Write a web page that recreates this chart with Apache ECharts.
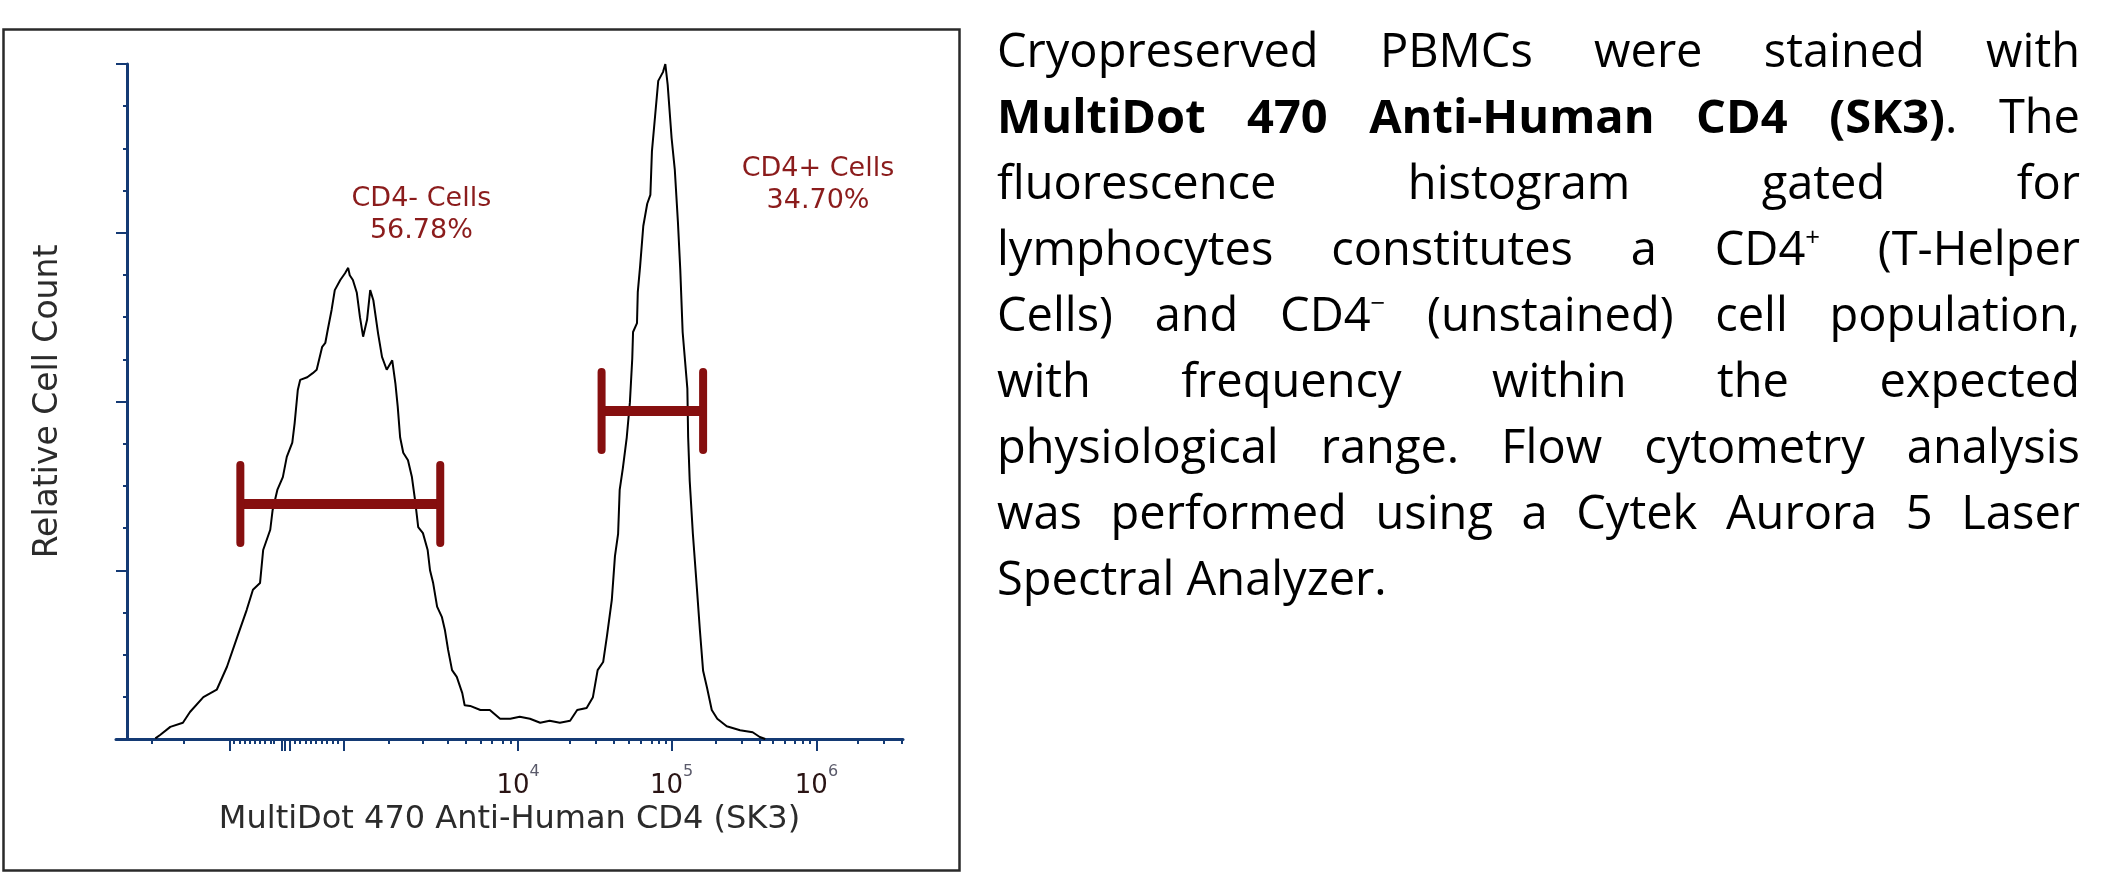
<!DOCTYPE html>
<html>
<head>
<meta charset="utf-8">
<script src="https://cdn.jsdelivr.net/npm/echarts@6.0.0/dist/echarts.min.js"></script>
<style>
  html, body { margin: 0; padding: 0; background: #fff; }
  #chart { position: absolute; left: 0; top: 0; width: 2116px; height: 873px; }
  #desc { position: absolute; left: 997px; top: 16px; width: 1083px;
          font-family: 'Open Sans', 'Noto Sans', sans-serif; font-size: 47px; color: #000; }
  #desc .ln { height: 66px; line-height: 66px; text-align: justify; text-align-last: justify; white-space: nowrap; overflow: visible; }
  #desc .ln.last { text-align: left; text-align-last: left; }
  #desc sup { font-size: 0.55em; line-height: 0; vertical-align: 0.75em; }
</style>
</head>
<body>
<div id="chart"></div>
<div id="desc"></div>
<script>
// ---- data (x in display channels 0-1000 of the compensated fluorescence axis, y in relative count %) ----
const cellX = [50,56,69,85,94,111,128,141,154,166,174,183,187,196,199,205,212,217,224,227,231,234,243,250,255,262,266,269,274,278,285,291,295,297,301,306,310,314,319,323,327,333,338,344,351,355,358,361,365,371,376,380,384,390,396,399,403,408,414,418,422,427,433,440,443,450,463,475,488,501,513,526,539,551,564,577,586,598,606,612,619,624,630,634,638,640,644,649,653,656,657,662,663,666,670,675,679,681,685,689,695,698,701,706,710,714,717,720,726,727,729,733,738,742,746,751,757,764,776,793,809,818,825];
const cellY = [0.1,0.6,1.8,2.4,4.0,6.2,7.3,10.7,15.1,19.1,22.1,23.1,28.0,31.0,33.9,36.9,38.8,41.8,43.9,46.8,51.7,53.2,53.6,54.2,54.7,58.1,58.7,60.6,63.6,66.5,68.0,69.0,69.8,68.7,68.0,66.1,62.5,59.6,62.1,66.5,65.0,60.1,56.6,54.7,56.1,52.7,49.2,44.7,42.4,41.3,38.8,35.4,31.4,30.5,28.0,25.0,23.1,19.6,18.1,16.1,13.2,10.2,9.2,6.8,5.0,4.9,4.3,4.3,3.0,3.0,3.3,3.0,2.4,2.7,2.4,2.7,4.3,4.6,6.2,10.2,11.4,15.4,20.6,27.1,30.4,36.9,40.1,44.7,49.9,56.4,60.3,61.6,66.2,70.1,76.0,79.3,80.6,87.1,92.3,97.5,98.8,100,96.9,89.0,84.4,76.6,69.5,60.3,51.9,44.7,38.2,30.4,22.5,16.0,10.1,7.6,4.3,3.0,1.9,1.3,1.0,0.3,0];

const gateNames = ['CD4- Cells', 'CD4+ Cells'];
const gatePct = ['56.78%', '34.70%'];
const gateStart = [158, 617];
const gateEnd = [412, 746];
const gateLevel = [34.8, 48.6];

const xMajorTicks = [145, 210, 214, 221, 290, 511, 706, 890];
const xMinorTicks = [45, 86, 150, 157, 163, 170, 176, 183, 189, 196, 201, 227, 234, 241, 248, 254, 262, 268, 276, 282, 347, 390, 421, 445, 463, 478, 492, 501, 576, 609, 633, 651, 667, 681, 690, 699, 762, 795, 818, 835, 850, 862, 872, 881, 943, 975, 999];
const xLabelTicks = [511, 706, 890];
const xLabelExp = ['4', '5', '6'];

const xName = 'MultiDot 470 Anti-Human CD4 (SK3)';
const yName = 'Relative Cell Count';

const descLines = [
  'Cryopreserved PBMCs were stained with',
  '<b>MultiDot 470 Anti-Human CD4 (SK3)</b>. The',
  'fluorescence histogram gated for',
  'lymphocytes constitutes a CD4<sup>+</sup> (T-Helper',
  'Cells) and CD4<sup>\u2212</sup> (unstained) cell population,',
  'with frequency within the expected',
  'physiological range. Flow cytometry analysis',
  'was performed using a Cytek Aurora 5 Laser',
  'Spectral Analyzer.'
];

// ---- description text ----
document.getElementById('desc').innerHTML = descLines.map((t, i) =>
  '<div class="ln' + (i === descLines.length - 1 ? ' last' : '') + '">' + t + '</div>').join('');

// ---- chart ----
const AXIS = '#143a74';
const GATE = '#860f0f';
const labelAnchors = [[388, 77.6], [892, 82.1]];

const chart = echarts.init(document.getElementById('chart'), null, { renderer: 'canvas' });
const option = {
  animation: false,
  backgroundColor: '#fff',
  graphic: [{
    type: 'rect', silent: true, z: -1,
    shape: { x: 3.5, y: 29.5, width: 956, height: 841 },
    style: { fill: 'none', stroke: '#2a2a2a', lineWidth: 2.5 }
  }],
  grid: { left: 116, right: 1213, top: 64, bottom: 134 },
  xAxis: [{
    type: 'value', min: 0, max: 1000, position: 'bottom',
    splitLine: { show: false },
    axisLine: { show: true, lineStyle: { color: AXIS, width: 3 } },
    axisTick: { show: true, customValues: xMajorTicks, length: 12, lineStyle: { color: AXIS, width: 2 } },
    axisLabel: {
      show: true, customValues: xLabelTicks, margin: 25,
      formatter: function (v) {
        let k = 0, best = 1e9;
        xLabelTicks.forEach((t, i) => { if (Math.abs(t - v) < best) { best = Math.abs(t - v); k = i; } });
        return '{b|10}{s|' + xLabelExp[k] + '}';
      },
      rich: {
        b: { fontFamily: 'DejaVu Sans', fontSize: 26, color: '#2a1414', lineHeight: 44 },
        s: { fontFamily: 'DejaVu Sans', fontSize: 16, color: '#5a5a6a', lineHeight: 16, verticalAlign: 'top' }
      }
    },
    name: xName, nameLocation: 'middle', nameGap: 63,
    nameTextStyle: { fontFamily: 'DejaVu Sans', fontSize: 32, color: '#2b2b2b' }
  }, {
    type: 'value', min: 0, max: 1000, position: 'bottom', gridIndex: 0,
    splitLine: { show: false },
    axisLine: { show: false },
    axisTick: { show: true, customValues: xMinorTicks, length: 5, lineStyle: { color: AXIS, width: 2 } },
    axisLabel: { show: false }
  }],
  yAxis: [{
    type: 'value', min: 0, max: 100, interval: 25, offset: -11,
    splitLine: { show: false },
    axisLine: { show: true, lineStyle: { color: AXIS, width: 3 } },
    axisTick: { show: true, length: 11, lineStyle: { color: AXIS, width: 2 } },
    minorTick: { show: true, splitNumber: 4, length: 4, lineStyle: { color: AXIS, width: 2 } },
    axisLabel: { show: false },
    name: yName, nameLocation: 'middle', nameGap: 62,
    nameTextStyle: { fontFamily: 'DejaVu Sans', fontSize: 33, color: '#2b2b2b' }
  }],
  series: [{
    type: 'line', xAxisIndex: 0, yAxisIndex: 0,
    data: cellX.map((x, i) => [x, cellY[i]]),
    symbol: 'none', smooth: false,
    lineStyle: { color: '#000', width: 2 },
    z: 3
  }, {
    type: 'custom', xAxisIndex: 0, yAxisIndex: 0, z: 4,
    data: gateNames.map((n, i) => [gateStart[i], gateEnd[i], gateLevel[i]]),
    renderItem: function (params, api) {
      const i = params.dataIndex;
      const p1 = api.coord([api.value(0), api.value(2)]);
      const p2 = api.coord([api.value(1), api.value(2)]);
      const lp = api.coord(labelAnchors[i]);
      const h = 39;
      return {
        type: 'group',
        children: [
          { type: 'line', shape: { x1: p1[0], y1: p1[1], x2: p2[0], y2: p2[1] },
            style: { stroke: GATE, lineWidth: 10 } },
          { type: 'line', shape: { x1: p1[0], y1: p1[1] - h, x2: p1[0], y2: p1[1] + h },
            style: { stroke: GATE, lineWidth: 8, lineCap: 'round' } },
          { type: 'line', shape: { x1: p2[0], y1: p2[1] - h, x2: p2[0], y2: p2[1] + h },
            style: { stroke: GATE, lineWidth: 8, lineCap: 'round' } },
          { type: 'text', x: lp[0], y: lp[1],
            style: { text: gateNames[i] + '\n' + gatePct[i], fill: '#8b1c1c',
                     font: '27px "DejaVu Sans"', align: 'center', verticalAlign: 'middle', lineHeight: 32 } }
        ]
      };
    }
  }]
};
chart.setOption(option);
</script>
</body>
</html>
